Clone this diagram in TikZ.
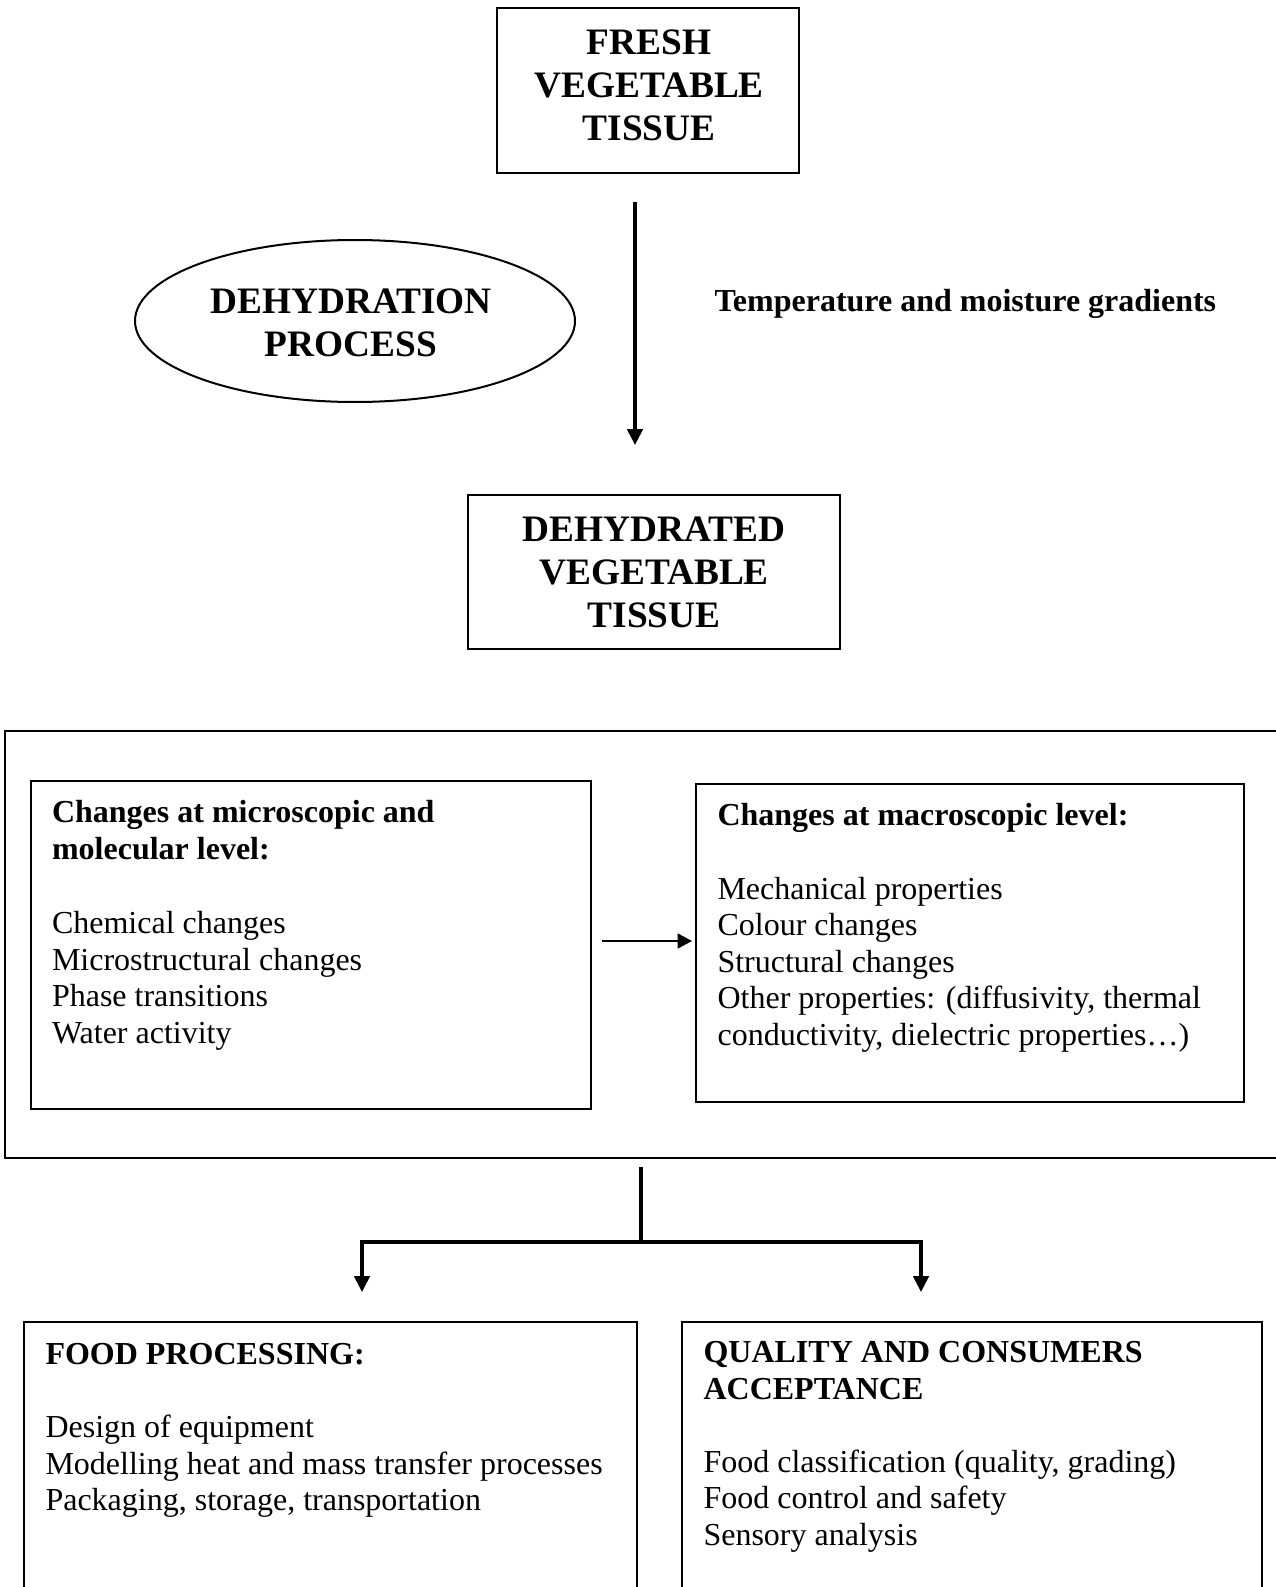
\documentclass[tikz,border=0pt]{standalone}
\usepackage{fontspec}
\setmainfont{Liberation Serif}
\usetikzlibrary{arrows.meta,shapes.geometric}
\begin{document}
\begin{tikzpicture}[x=0.375pt,y=-0.375pt,
  box/.style={draw,line width=0.75pt,rectangle,inner sep=0pt},
  oval/.style={draw,line width=0.75pt,ellipse,inner sep=0pt},
  title/.style={font=\fontsize{14}{16.1}\selectfont\bfseries,align=center,inner sep=0pt,anchor=north},
  bodytext/.style={font=\fontsize{12}{13.7}\selectfont,align=left,inner sep=0pt,anchor=north west},
  arr/.style={line width=1.3pt,-{Triangle[length=6pt,width=5.8pt]}},
  thinarr/.style={line width=0.65pt,-{Triangle[length=5.4pt,width=5.6pt]}},
  heavyline/.style={line width=1.3pt}
]
\useasboundingbox (0,0) rectangle (1276,1587);
\clip (0,0) rectangle (1276,1587);

% top boxes
\node[box,minimum width=302*0.375pt,minimum height=165*0.375pt] (fresh) at (648,90.5) {};
\node[title] (freshtxt) at (649,29) {FRESH\\VEGETABLE\\TISSUE};

\node[oval,minimum width=440*0.375pt,minimum height=162*0.375pt] (proc) at (355,321) {};
\node[title] (proctxt) at (351,288) {DEHYDRATION\\PROCESS};

\node[font=\fontsize{12}{13.7}\selectfont\bfseries,inner sep=0pt,anchor=base west] (grad) at (714,311) {Temperature and moisture gradients};

\node[box,minimum width=372*0.375pt,minimum height=154*0.375pt] (dried) at (654,572) {};
\node[title] (driedtxt) at (654,516) {DEHYDRATED\\VEGETABLE\\TISSUE};

\coordinate (va) at (635,202);
\coordinate (vb) at (635,445);
\draw[arr] (va) -- (vb);

% changes frame
\node[box,minimum width=1300*0.375pt,minimum height=427*0.375pt] (changes) at (655,944.5) {};
\node[box,minimum width=560*0.375pt,minimum height=328*0.375pt] (micro) at (311,945) {};
\node[box,minimum width=548*0.375pt,minimum height=318*0.375pt] (macro) at (970,943) {};

\node[bodytext] (microtxt) at (51.5,800) {\textbf{Changes at microscopic and}\\\textbf{molecular level:}\\[14.2pt]Chemical changes\\Microstructural changes\\Phase transitions\\Water activity};
\node[bodytext] (macrotxt) at (717,803) {\textbf{Changes at macroscopic level:}\\[13.9pt]Mechanical properties\\Colour changes\\Structural changes\\Other properties: (diffusivity, thermal\\conductivity, dielectric properties\ldots)};

\coordinate (ma) at (602,941);
\coordinate (mb) at (692,941);
\draw[thinarr] (ma) -- (mb);

% split
\coordinate (stemtop) at (641,1167);
\coordinate (split) at (641,1242);
\coordinate (tipL) at (362,1292);
\coordinate (tipR) at (921,1292);
\draw[heavyline] (stemtop) -- (split);
\draw[arr] (split) -| (tipL);
\draw[arr] (split) -| (tipR);

% bottom boxes
\node[box,minimum width=613*0.375pt,minimum height=300*0.375pt] (food) at (330.5,1472) {};
\node[box,minimum width=580*0.375pt,minimum height=300*0.375pt] (quality) at (972,1472) {};

\node[bodytext] (foodtxt) at (45,1343) {\textbf{FOOD PROCESSING:}\\[13.7pt]Design of equipment\\Modelling heat and mass transfer processes\\Packaging, storage, transportation};
\node[bodytext] (qualtxt) at (703,1341) {\textbf{QUALITY AND CONSUMERS}\\\textbf{ACCEPTANCE}\\[13.7pt]Food classification (quality, grading)\\Food control and safety\\Sensory analysis};
\end{tikzpicture}
\end{document}
